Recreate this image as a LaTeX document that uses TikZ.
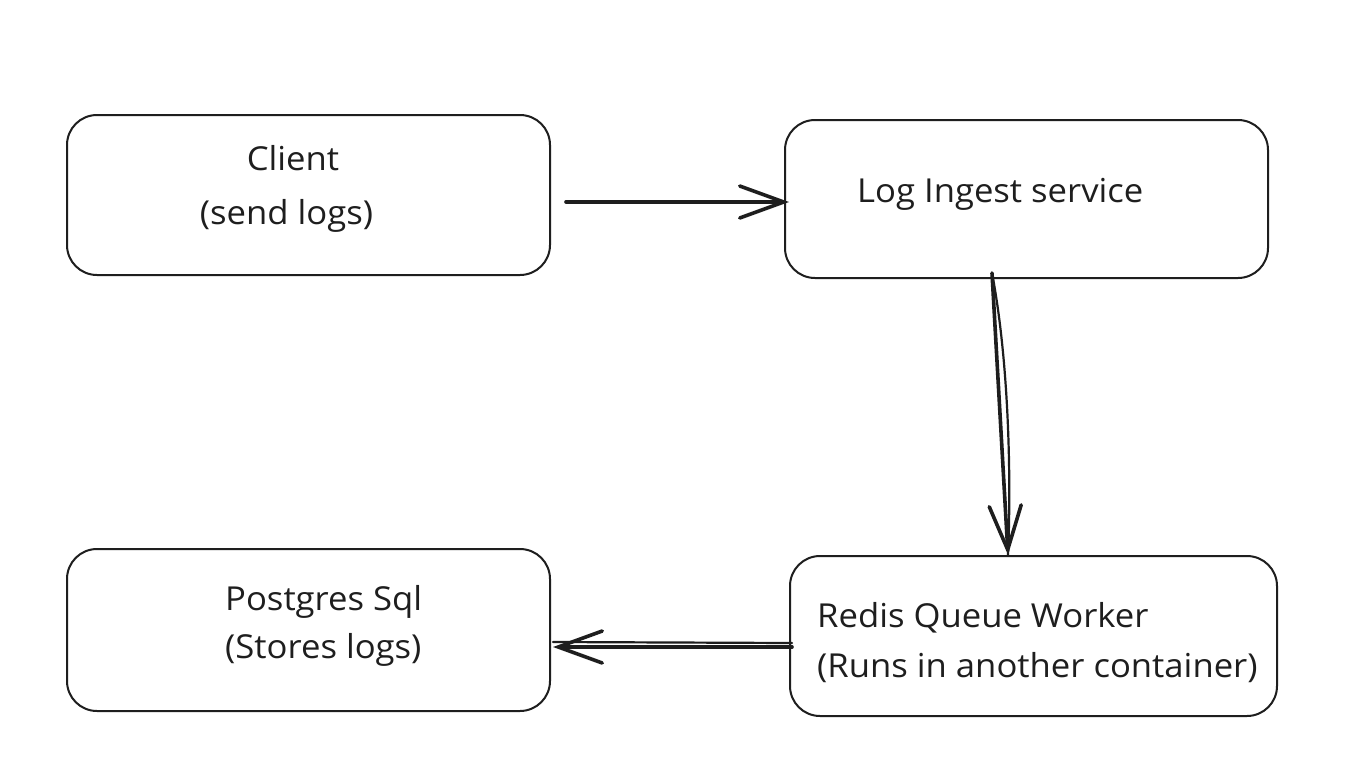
\documentclass[tikz,border=0pt]{standalone}
\usepackage{fontspec}
\setmainfont[FakeStretch=1.05]{Open Sans}
\usetikzlibrary{arrows.meta}
\definecolor{ink}{HTML}{1E1E1E}
\tikzset{
  box/.style={draw=ink, line width=2pt, rounded corners=30pt, inner sep=0pt},
  lbl/.style={text=ink, font=\fontsize{33}{40}\selectfont, inner sep=0pt},
  arr/.style={draw=ink, line width=3.6pt, line cap=round,
    -{Straight Barb[length=44pt, width=32pt, line cap=round]}},
  sketch/.style={draw=ink, line width=2.2pt, line cap=round}
}
\begin{document}
\begin{tikzpicture}[x=1pt,y=-1pt]
\fill[white] (0,0) rectangle (1358,774);
\useasboundingbox (0,0) rectangle (1358,774);
% boxes
\node[box, minimum width=483pt, minimum height=160pt] (client) at (308.5,195) {};
\node[box, minimum width=483pt, minimum height=158pt] (log) at (1026.5,199) {};
\node[box, minimum width=483pt, minimum height=162pt] (pg) at (308.5,630) {};
\node[box, minimum width=487pt, minimum height=160pt] (redis) at (1033.5,636) {};
% labels
\node[lbl, anchor=base] (t1) at (293,170) {Client};
\node[lbl, anchor=base] (t2) at (286.5,224) {(send logs)};
\node[lbl, anchor=base west] (t3) at (857,202) {Log Ingest service};
\node[lbl, anchor=base west] (t4) at (225,610) {Postgres Sql};
\node[lbl, anchor=base west] (t5) at (225,658) {(Stores logs)};
\node[lbl, anchor=base west] (t6) at (817,627) {Redis Queue Worker};
\node[lbl, anchor=base west] (t7) at (817,677) {(Runs in another container)};
% connectors
\draw[arr] ([xshift=15pt,yshift=-7pt]client.east) -- ([xshift=5pt,yshift=-3pt]log.west);
\draw[arr] ([xshift=-34.5pt,yshift=6pt]log.south) -- ([xshift=-25.5pt]redis.north);
\draw[sketch] ([xshift=-34.5pt,yshift=6pt]log.south) .. controls ([xshift=-18pt,yshift=-80pt]log.south) and ([xshift=-22pt,yshift=80pt]redis.north) .. ([xshift=-25.5pt]redis.north);
\draw[arr] ([xshift=3pt,yshift=-11pt]redis.west) -- ([xshift=2pt,yshift=-17pt]pg.east);
\draw[sketch] ([xshift=3pt,yshift=-7pt]redis.west) -- ([xshift=2pt,yshift=-12pt]pg.east);
\end{tikzpicture}
\end{document}
